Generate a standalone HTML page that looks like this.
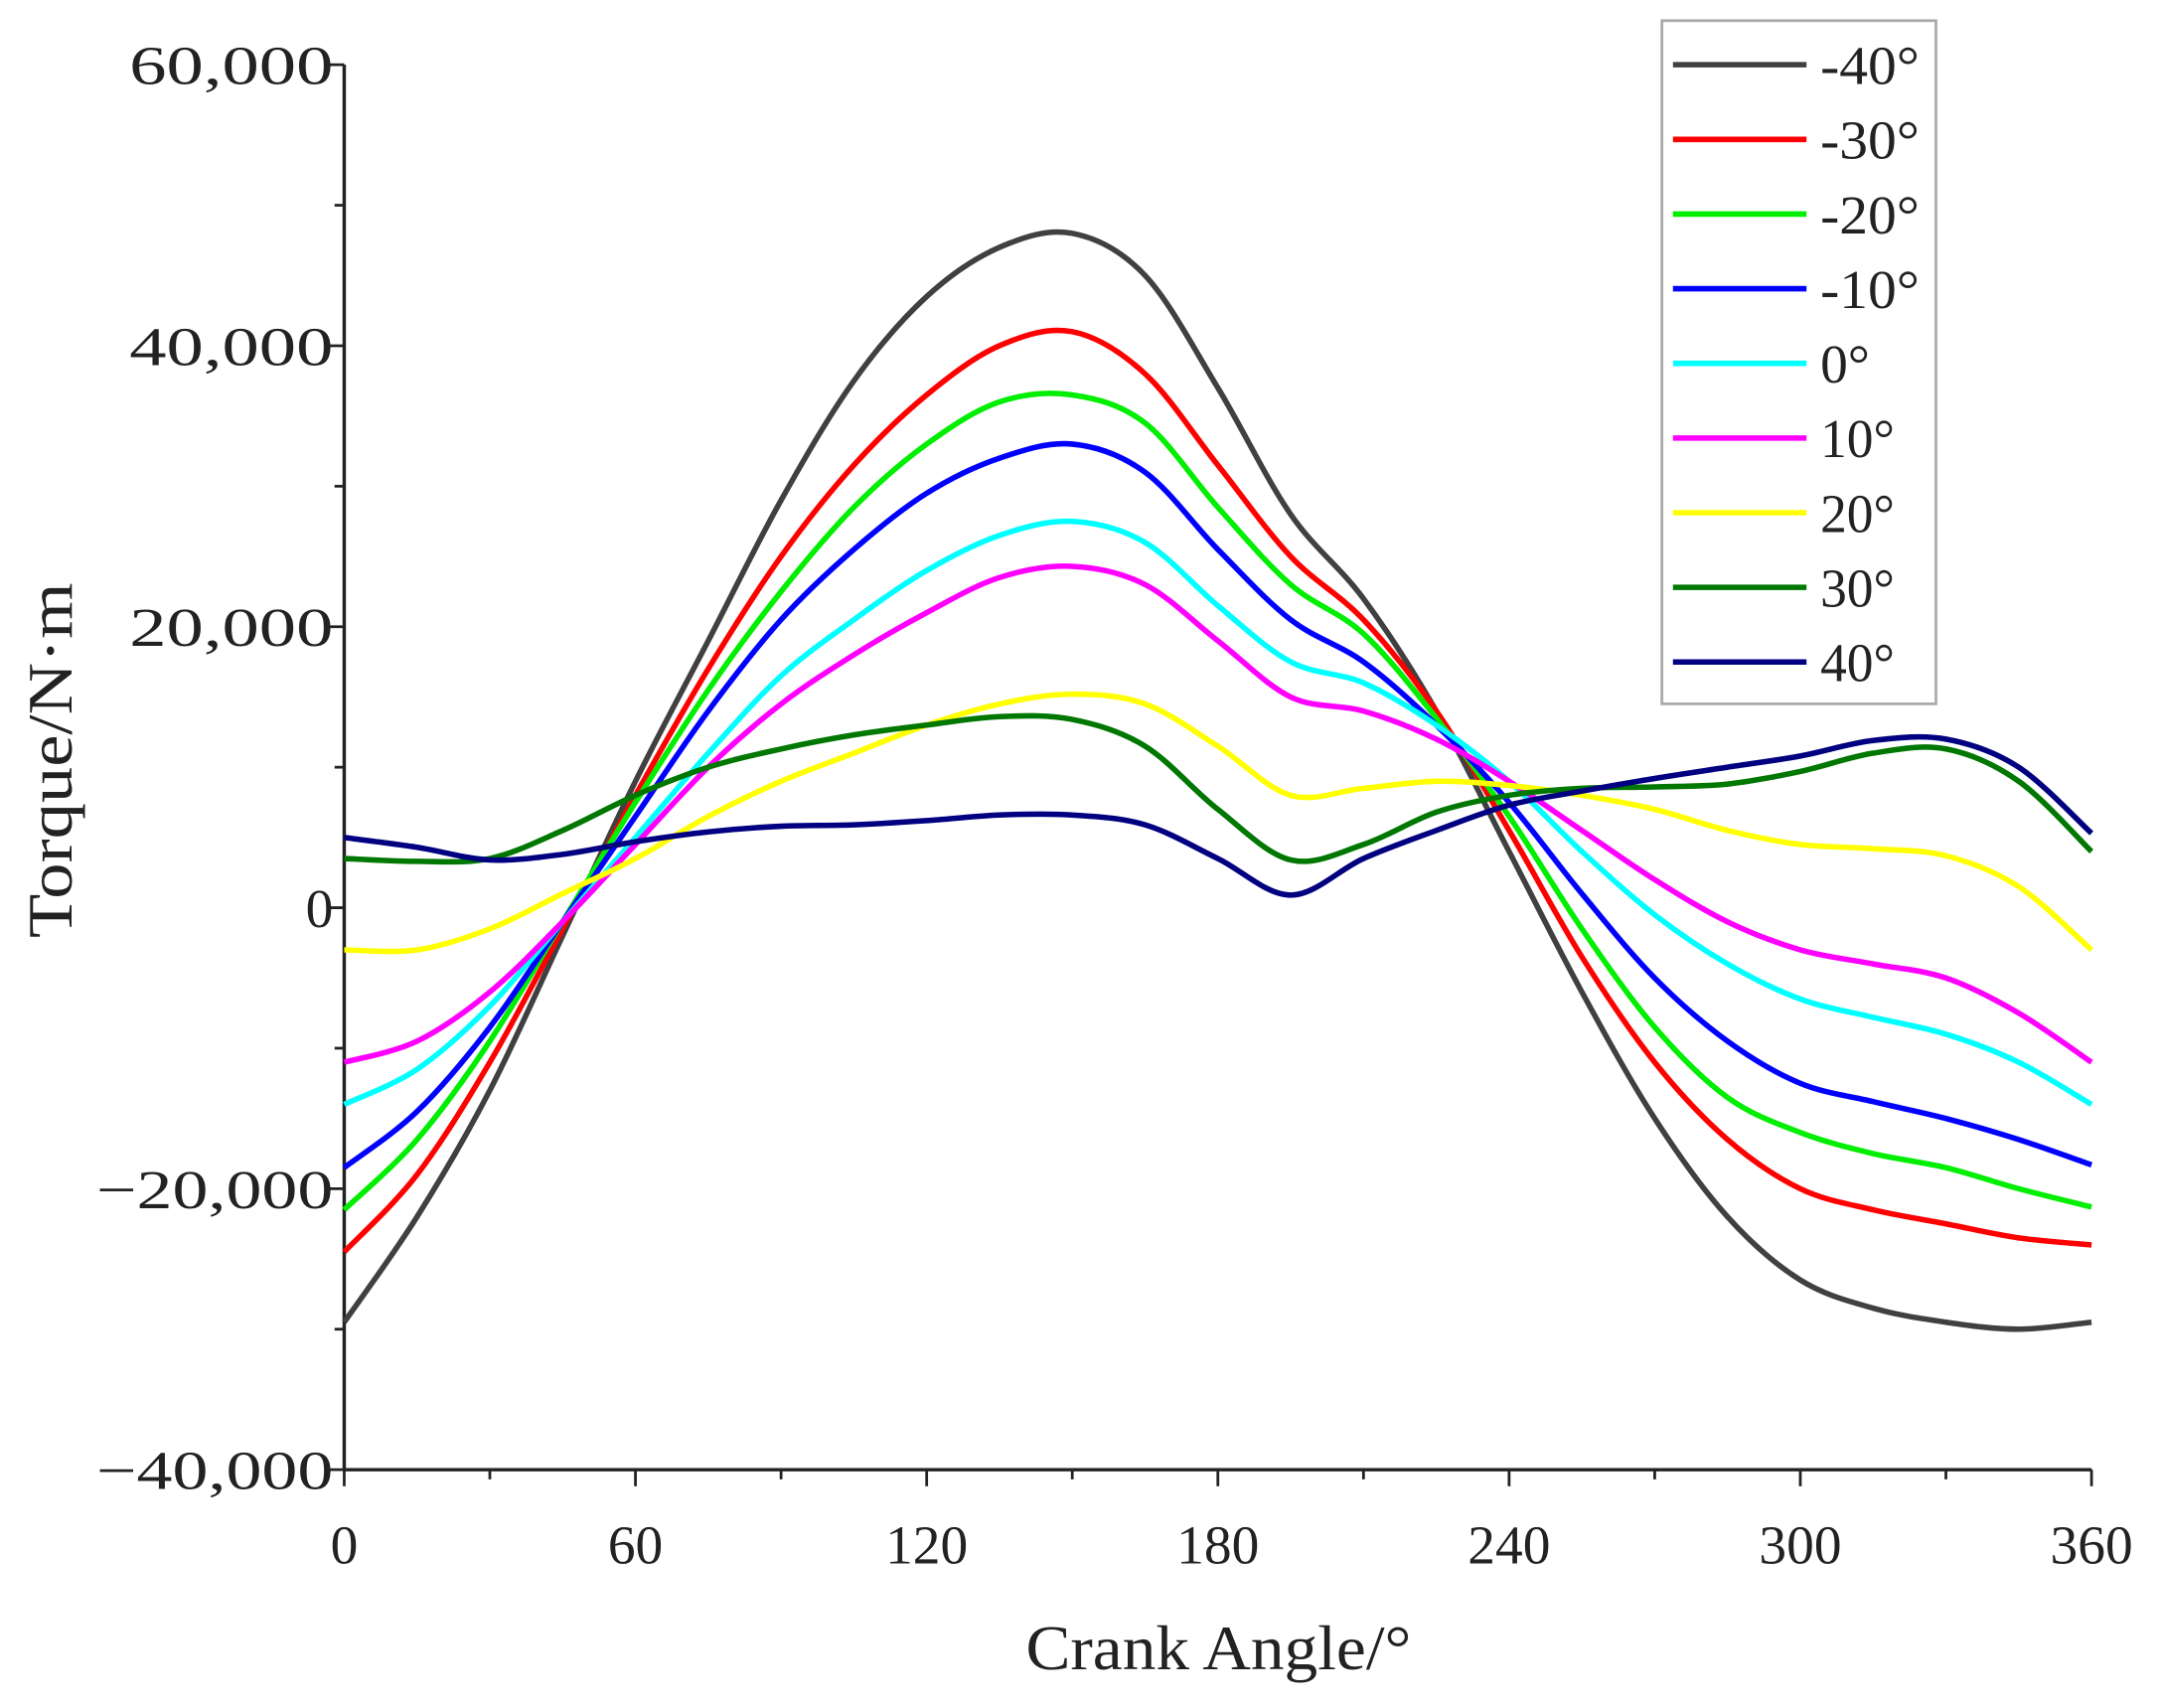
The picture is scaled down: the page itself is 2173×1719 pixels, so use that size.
<!DOCTYPE html>
<html><head><meta charset="utf-8"><style>
html,body{margin:0;padding:0;background:#fff}
svg{display:block}
text{font-family:"Liberation Serif",serif;fill:#222}
</style></head><body>
<svg id="chart" width="2173" height="1719" viewBox="0 0 1568 1240" preserveAspectRatio="none">
<g id="axes"></g>
<g id="series"></g>
<g id="legend"></g>
<text x="52" y="552" font-size="46" text-anchor="middle" textLength="258" lengthAdjust="spacingAndGlyphs" transform="rotate(-90 52 552)">Torque/N·m</text>
<text x="885" y="1212" font-size="46" text-anchor="middle" textLength="280" lengthAdjust="spacingAndGlyphs">Crank Angle/°</text>
</svg>
<script>
const xs=[0,15,30,45,60,75,90,105,120,135,150,165,180,195,210,225,240,255,270,285,300,315,330,345,360];
const names=["-40°","-30°","-20°","-10°","0°","10°","20°","30°","40°"];
const colors=["#404040","#ff0000","#00ee00","#0000ff","#00ffff","#ff00ff","#ffff00","#007700","#000080"];
const sM40=[-29500,-22000,-13000,-2000,9000,19000,29000,37500,43500,47000,48000,45000,37000,28000,22000,14000,4000,-6000,-15000,-22000,-26500,-28500,-29500,-30000,-29500];
const sM30=[-24500,-19000,-11000,-1500,8000,17000,25000,31500,36500,40000,41000,38000,31500,25000,20500,14000,5500,-3500,-11000,-16500,-20000,-21500,-22500,-23500,-24000];
const sM20=[-21500,-16500,-9500,-1000,7500,15500,22500,28500,33000,36000,36500,34500,28500,23000,19500,13500,6500,-1500,-8500,-13500,-16000,-17500,-18500,-20000,-21300];
const sM10=[-18500,-14500,-8500,-1000,6500,14000,20500,25500,29500,32000,33000,31000,25500,20500,17500,13000,7500,1000,-5000,-9500,-12500,-13800,-15000,-16500,-18300];
const s0=[-14000,-11500,-7000,-1000,5000,11000,16500,20500,24000,26500,27500,26000,21500,17500,16000,13000,9000,4000,-500,-4000,-6500,-7800,-9000,-11000,-14000];
const s10=[-11000,-9500,-6000,-1000,4500,10000,14500,18000,21000,23500,24300,23000,19000,15000,14000,12000,9000,5500,2000,-1000,-3000,-4000,-5000,-7500,-11000];
const s20=[-3000,-3000,-1500,1000,3500,6500,9000,11000,13000,14500,15200,14500,11500,8000,8500,9000,8700,8000,7000,5500,4500,4200,3700,1500,-3000];
const s30=[3500,3300,3500,5500,8000,10000,11300,12300,13000,13600,13400,11500,7000,3400,4500,6800,8000,8500,8600,8800,9700,11000,11300,9000,4000];
const s40=[5000,4300,3400,3800,4700,5400,5800,5900,6200,6600,6600,5900,3500,900,3500,5500,7300,8300,9200,10000,10800,11900,12000,10000,5300];
const series=[sM40,sM30,sM20,sM10,s0,s10,s20,s30,s40];
const xTicks=[0,60,120,180,240,300,360];
const yTicks=[-40000,-20000,0,20000,40000,60000];
const yLabels=["\u221240,000","\u221220,000","0","20,000","40,000","60,000"];
const NS="http://www.w3.org/2000/svg";
const X0=250,X1=1519,YT=47,YB=1067;
const xS=v=>X0+(v/360)*(X1-X0);
const yS=v=>YB-(v+40000)/100000*(YB-YT);
function mk(t,a,p){const e=document.createElementNS(NS,t);for(const k in a)e.setAttribute(k,a[k]);p.appendChild(e);return e;}
const ax=document.getElementById('axes');
let l=mk('line',{x1:X0,y1:YT,x2:X0,y2:YB,stroke:'#222','stroke-width':2.5},ax);


l=mk('line',{x1:X0,y1:YB,x2:X1,y2:YB,stroke:'#222','stroke-width':2.5},ax);


for(let v=0;v<=360;v+=30){const major=v%60===0;const t=mk('line',{x1:xS(v),y1:YB,x2:xS(v),y2:YB+(major?12:7),stroke:'#222','stroke-width':2},ax);

}
xTicks.forEach(v=>{const s=String(v);const t=mk('text',{x:xS(v),y:YB+68,'font-size':40,'text-anchor':'middle',textLength:s.length*20,lengthAdjust:'spacingAndGlyphs'},ax);t.textContent=s;

});
for(let v=-40000;v<=60000;v+=10000){const major=v%20000===0;const t=mk('line',{x1:X0,y1:yS(v),x2:X0-(major?12:7),y2:yS(v),stroke:'#222','stroke-width':2},ax);

}
yTicks.forEach((v,i)=>{const s=yLabels[i];const w=s==="0"?20:(s.length===6?148:172);const t=mk('text',{x:X0-8,y:yS(v)+14,'font-size':40,'text-anchor':'end',textLength:w,lengthAdjust:'spacingAndGlyphs'},ax);t.textContent=s;

});
function path(pts){let d=`M${pts[0][0]},${pts[0][1]}`;for(let i=0;i<pts.length-1;i++){const p0=pts[Math.max(0,i-1)],p1=pts[i],p2=pts[i+1],p3=pts[Math.min(pts.length-1,i+2)];
d+=` C${p1[0]+(p2[0]-p0[0])/6},${p1[1]+(p2[1]-p0[1])/6} ${p2[0]-(p3[0]-p1[0])/6},${p2[1]-(p3[1]-p1[1])/6} ${p2[0]},${p2[1]}`;}return d;}
const sg=document.getElementById('series');
series.forEach((s,i)=>{const p=mk('path',{d:path(s.map((v,j)=>[xS(xs[j]),yS(v)])),fill:'none',stroke:colors[i],'stroke-width':4},sg);

});
const lg=document.getElementById('legend');
const box=mk('rect',{x:1207,y:15,width:199,height:496,fill:'#fff',stroke:'#aaa','stroke-width':2},lg);


names.forEach((n,i)=>{const y=47+i*54.2;const g=mk('g',{},lg);


mk('line',{x1:1215,y1:y,x2:1312,y2:y,stroke:colors[i],'stroke-width':4},g);
const t=mk('text',{x:1322,y:y+14,'font-size':40,textLength:n.length*18,lengthAdjust:'spacingAndGlyphs'},g);t.textContent=n;});
</script>
</body></html>
